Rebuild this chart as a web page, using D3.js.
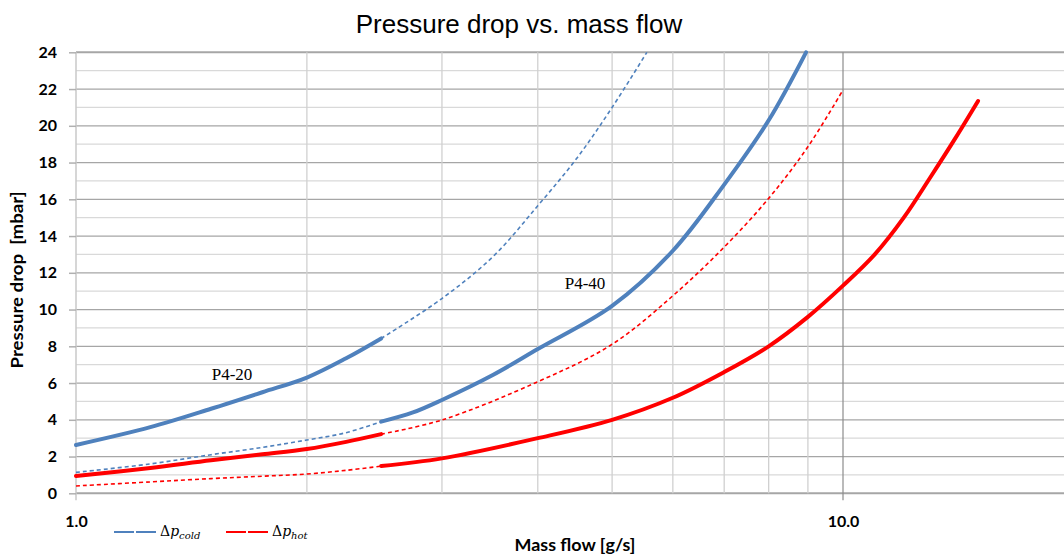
<!DOCTYPE html>
<html>
<head>
<meta charset="utf-8">
<script src="https://cdn.jsdelivr.net/npm/d3@7"></script>
<style>
  body { margin: 0; background: #fff; }
  svg { display: block; }
</style>
</head>
<body>
<div class="chart"></div>
<script>
// flows [g/s] and pressure drops [mbar]
const flowLow = [1, 1.25, 1.5, 1.75, 2, 2.25, 2.5];
const coldP420 = [2.63, 3.6, 4.6, 5.5, 6.3, 7.35, 8.43];      // measured
const hotP420 = [0.94, 1.38, 1.8, 2.12, 2.41, 2.8, 3.22];
const coldP440Low = [1.14, 1.6, 2.1, 2.5, 2.9, 3.3, 3.9];      // extrapolated
const hotP440Low = [0.40, 0.62, 0.8, 0.93, 1.05, 1.25, 1.48];

const flowColdP420Ext = [2.5, 3, 3.5, 4, 4.5, 5, 5.55];
const coldP420Ext = [8.43, 10.6, 12.9, 15.65, 18.25, 21.0, 24.0];
const flowHotP420Ext = [2.5, 3, 4, 5, 6, 7, 8, 9, 10];
const hotP420Ext = [3.22, 3.99, 6.07, 8.11, 10.75, 13.4, 16.05, 18.86, 21.95];

const flowColdP440 = [2.5, 2.75, 3, 3.5, 4, 5, 6, 7, 8, 8.95];
const coldP440 = [3.9, 4.4, 5.08, 6.45, 7.85, 10.2, 13.2, 16.8, 20.3, 24.0];
const flowHotP440 = [2.5, 3, 4, 5, 6, 7, 8, 9, 10, 11, 12, 13, 14, 15];
const hotP440 = [1.48, 1.9, 3.0, 4.0, 5.2, 6.6, 8.0, 9.6, 11.3, 13.0, 15.0, 17.2, 19.3, 21.35];

const yTicks = [0, 2, 4, 6, 8, 10, 12, 14, 16, 18, 20, 22, 24];
const xTicks = [1, 10];
const xMinor = [2, 3, 4, 5, 6, 7, 8, 9];

const blue = "#4f81bd", red = "#ff0000";

const W = 1064, H = 554;
const svg = d3.select(".chart").append("svg")
  .attr("width", W).attr("height", H);

const x = d3.scaleLog().domain([1, 20]).range([76, 76 + 767 * Math.log10(20)]);
const y = d3.scaleLinear().domain([0, 24]).range([493.3, 52.3]);
const right = W;

// grid
const grid = svg.append("g");
d3.range(0, 25).forEach(v => {
  grid.append("line")
    .attr("x1", x(1)).attr("x2", right)
    .attr("y1", y(v)).attr("y2", y(v))
    .attr("stroke", v % 2 === 0 ? "#a6a6a6" : "#d9d9d9")
    .attr("stroke-width", v === 0 || v === 24 ? 2 : 1.2);
});
xMinor.forEach(v => {
  grid.append("line")
    .attr("x1", x(v)).attr("x2", x(v))
    .attr("y1", y(24)).attr("y2", y(0))
    .attr("stroke", "#d0d0d0").attr("stroke-width", 1.3);
});
grid.append("line")
  .attr("x1", x(10)).attr("x2", x(10))
  .attr("y1", y(24)).attr("y2", y(0) + 7)
  .attr("stroke", "#8c8c8c").attr("stroke-width", 1.2);
grid.append("line")
  .attr("x1", x(1)).attr("x2", x(1))
  .attr("y1", y(24)).attr("y2", y(0) + 7)
  .attr("stroke", "#c8c8c8").attr("stroke-width", 1.5);

// y axis
const yAxis = svg.append("g")
  .attr("transform", "translate(" + x(1) + ",0)")
  .call(d3.axisLeft(y).tickValues(yTicks).tickSize(7).tickPadding(12))
yAxis.select(".domain").remove();
yAxis.selectAll("line").attr("stroke", "#b0b0b0").attr("stroke-width", 1.5);
yAxis.selectAll("text")
  .style("font-family", "Lato, sans-serif")
  .style("font-weight", "bold")
  .style("font-size", "16px")
  .attr("fill", "#000");

// x axis labels
const xAxis = svg.append("g")
  .attr("transform", "translate(0," + y(0) + ")")
  .call(d3.axisBottom(x).tickValues(xTicks).tickSize(0).tickPadding(22)
    .tickFormat(d3.format(".1f")));
xAxis.select(".domain").remove();
xAxis.selectAll("text")
  .style("font-family", "Lato, sans-serif")
  .style("font-weight", "bold")
  .style("font-size", "16px")
  .attr("fill", "#000");

// curves
const line = d3.line()
  .x(d => x(d[0]))
  .y(d => y(d[1]))
  .curve(d3.curveCatmullRom.alpha(0.5));

function drawCurve(xs, ys, color, solid) {
  svg.append("path")
    .datum(xs.map((v, i) => [v, ys[i]]))
    .attr("d", line)
    .attr("fill", "none")
    .attr("stroke", color)
    .attr("stroke-width", solid ? 4 : 1.6)
    .attr("stroke-dasharray", solid ? null : "4,3")
    .attr("stroke-linecap", solid ? "round" : "butt");
}

drawCurve(flowLow, coldP440Low, blue, false);
drawCurve(flowLow, hotP440Low, red, false);
drawCurve(flowColdP420Ext, coldP420Ext, blue, false);
drawCurve(flowHotP420Ext, hotP420Ext, red, false);
drawCurve(flowLow, coldP420, blue, true);
drawCurve(flowLow, hotP420, red, true);
drawCurve(flowColdP440, coldP440, blue, true);
drawCurve(flowHotP440, hotP440, red, true);

// curve labels
svg.append("text").attr("x", 232).attr("y", 380)
  .attr("text-anchor", "middle")
  .style("font-family", "'Liberation Serif', serif").style("font-size", "17px")
  .text("P4-20");
svg.append("text").attr("x", 585).attr("y", 289)
  .attr("text-anchor", "middle")
  .style("font-family", "'Liberation Serif', serif").style("font-size", "17px")
  .text("P4-40");

// title
svg.append("text").attr("x", 519).attr("y", 33)
  .attr("text-anchor", "middle")
  .style("font-family", "'Liberation Sans', Arial, sans-serif").style("font-size", "26px")
  .text("Pressure drop vs. mass flow");

// axis titles
svg.append("text")
  .attr("transform", "translate(23,280) rotate(-90)")
  .attr("text-anchor", "middle")
  .attr("textLength", 177).attr("lengthAdjust", "spacingAndGlyphs")
  .style("font-family", "Lato, sans-serif").style("font-weight", "bold").style("font-size", "17px")
  .style("white-space", "pre")
  .text("Pressure drop  [mbar]");
svg.append("text").attr("x", 575).attr("y", 551)
  .attr("text-anchor", "middle")
  .attr("textLength", 121).attr("lengthAdjust", "spacingAndGlyphs")
  .style("font-family", "Lato, sans-serif").style("font-weight", "bold").style("font-size", "17px")
  .text("Mass flow [g/s]");

// legend
const legend = [
  {name: "cold", color: blue, x0: 114},
  {name: "hot", color: red, x0: 226}
];
legend.forEach(l => {
  const g = svg.append("g");
  g.append("line").attr("x1", l.x0).attr("x2", l.x0 + 42)
    .attr("y1", 532).attr("y2", 532)
    .attr("stroke", l.color).attr("stroke-width", 2)
    .attr("stroke-dasharray", "20,2");
  const t = g.append("text").attr("x", l.x0 + 46).attr("y", 536)
    .style("font-family", "'DejaVu Serif', serif").style("font-size", "14px");
  t.append("tspan").text("Δ");
  t.append("tspan").style("font-style", "italic").text("p");
  t.append("tspan").style("font-style", "italic").style("font-size", "10px")
    .attr("dy", 3).text(l.name);
});
</script>
</body>
</html>
